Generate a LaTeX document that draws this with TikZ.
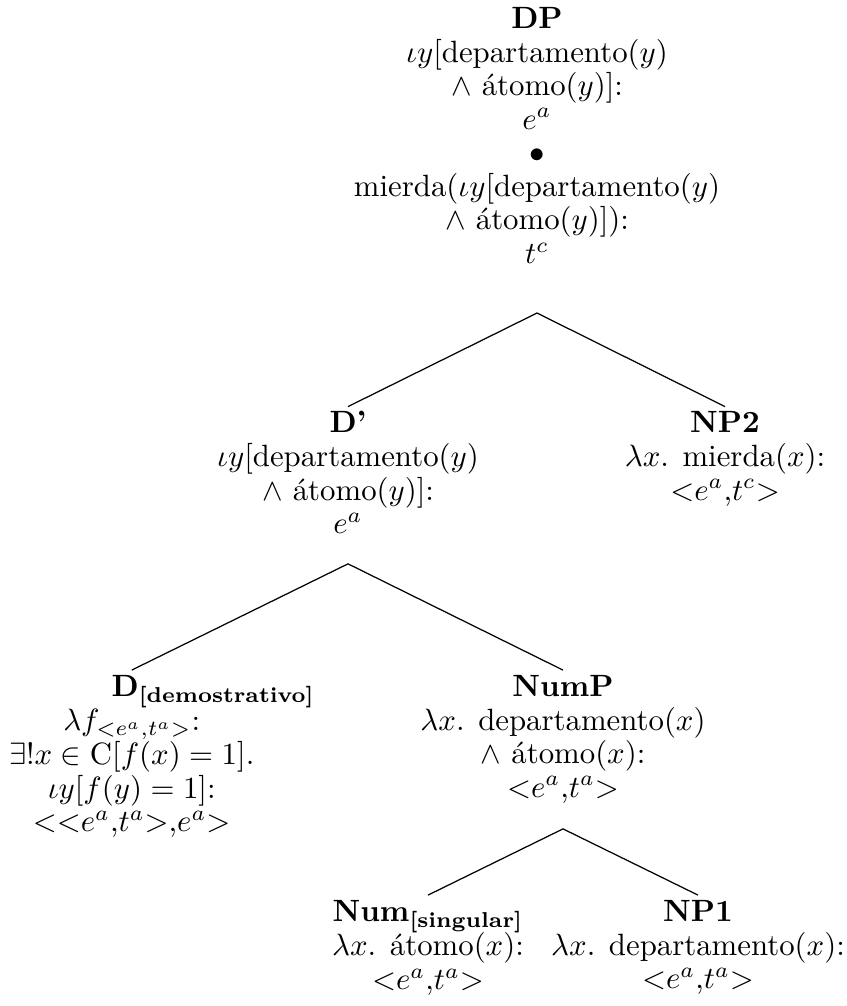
\documentclass[tikz,border=0pt]{standalone}
\usepackage{amsmath}
\newcommand{\stk}[1]{\begin{tabular}[t]{@{}c@{}}#1\end{tabular}}
\newcommand{\typ}[2]{$<$$#1$,$#2$$>$}
\tikzset{
  tnode/.style={inner sep=0pt, outer sep=0.93pt, anchor=north,
    font={\fontsize{10}{10.9}\selectfont}},
  branch/.style={line width=0.4pt}
}
\begin{document}
\begin{tikzpicture}[x=0.3247pt,y=-0.3247pt]
\useasboundingbox (0,0) rectangle (846,1006);
\node[tnode] (dp) at (537,2.1) {\stk{\textbf{DP}\\
  $\iota y$[departamento$(y)$\\
  $\wedge$ átomo$(y)$]:\\
  $e^a$\\
  $\bullet$\\
  mierda$(\iota y$[departamento$(y)$\\
  $\wedge$ átomo$(y)$]):\\
  $t^c$}};
\node[tnode] (dprime) at (348,406.6) {\stk{\textbf{D'}\\
  $\iota y$[departamento$(y)$\\
  $\wedge$ átomo$(y)$]:\\
  $e^a$}};
\node[tnode] (np2) at (725,406.6) {\stk{\textbf{NP2}\\
  $\lambda x$. mierda$(x)$:\\
  \typ{e^a}{t^c}}};
\node[tnode] (ddem) at (131.7,670.1) {\stk{\makebox[13pt][l]{\textbf{D}$_{\text{\bfseries [demostrativo]}}$}\\
  $\lambda f_{<e^a,t^a>}$:\\
  $\exists!x \in \mathrm{C}[f(x) = 1]$.\\
  $\iota y[f(y) = 1]$:\\
  $<$\typ{e^a}{t^a},$e^a$$>$}};
\node[tnode] (nump) at (563,670.1) {\stk{\textbf{NumP}\\
  $\lambda x$. departamento$(x)$\\
  $\wedge$ átomo$(x)$:\\
  \typ{e^a}{t^a}}};
\node[tnode] (num) at (428,895.1) {\stk{\textbf{Num}$_{\text{\bfseries [singular]}}$\\
  $\lambda x$. átomo$(x)$:\\
  \typ{e^a}{t^a}}};
\node[tnode] (np1) at (698,895.1) {\stk{\textbf{NP1}\\
  $\lambda x$. departamento$(x)$:\\
  \typ{e^a}{t^a}}};
\coordinate (apexdp) at ([yshift=-11.9pt]dp.south);
\coordinate (apexd) at ([yshift=-5.6pt]dprime.south);
\coordinate (apexnum) at ([yshift=-6.1pt]nump.south);
\draw[branch] (dprime.north) -- (apexdp) -- (np2.north);
\draw[branch] (ddem.north) -- (apexd) -- (nump.north);
\draw[branch] (num.north) -- (apexnum) -- (np1.north);
\end{tikzpicture}
\end{document}
